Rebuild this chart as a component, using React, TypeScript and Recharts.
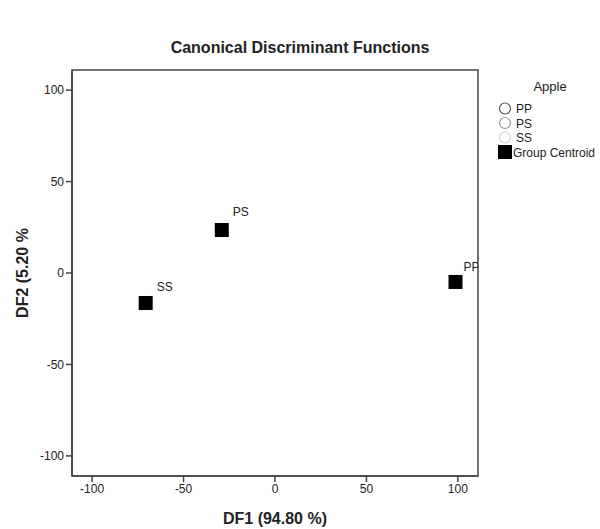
import React from "react";
import {
  ScatterChart,
  Scatter,
  XAxis,
  YAxis,
  ZAxis,
  ReferenceArea,
  Customized,
} from "recharts";

const groups = ["PP", "PS", "SS"];
const df1 = [98.7, -29.1, -70.7];
const df2 = [-4.9, 23.5, -16.4];
const ticks = [-100, -50, 0, 50, 100];
const groupStrokes = ["#555555", "#999999", "#d4d4d4"];

const centroids = groups.map((g, i) => ({ name: g, x: df1[i], y: df2[i] }));
const labelOffsets: Record<string, [number, number]> = {
  PP: [8, -11],
  PS: [11, -14],
  SS: [11, -12],
};

const FONT = "'Liberation Sans', Arial, sans-serif";

const CentroidShape = (props: any) => {
  const { cx, cy, payload } = props;
  const s = 14;
  const off = labelOffsets[payload.name] || [10, -12];
  return (
    <g>
      <rect x={cx - s / 2} y={cy - s / 2} width={s} height={s} fill="#000" />
      <text
        x={cx + off[0]}
        y={cy + off[1]}
        fontSize={12}
        fontFamily={FONT}
        fill="#222"
      >
        {payload.name}
      </text>
    </g>
  );
};

const LegendBlock = () => (
  <g transform="translate(499,78)">
    <text x={51} y={13} textAnchor="middle" fontSize={13} fontFamily={FONT} fill="#222">
      Apple
    </text>
    {groups.map((g, i) => (
      <g key={g}>
        <circle cx={6} cy={30.5 + i * 14.5} r={5.5} fill="none" stroke={groupStrokes[i]} strokeWidth={1.2} />
        <text x={17} y={35 + i * 14.5} fontSize={12} fontFamily={FONT} fill="#222">
          {g}
        </text>
      </g>
    ))}
    <rect x={-1} y={67} width={14} height={14} fill="#000" />
    <text x={14} y={79} fontSize={12} fontFamily={FONT} fill="#222">
      Group Centroid
    </text>
  </g>
);

const Title = () => (
  <text
    x={300}
    y={53}
    textAnchor="middle"
    fontSize={16}
    fontWeight="bold"
    fontFamily={FONT}
    fill="#222"
  >
    Canonical Discriminant Functions
  </text>
);

export default function App() {
  return (
    <div style={{ position: "absolute", left: 0, top: 0, background: "#fff" }}>
      <ScatterChart
        width={600}
        height={529}
        margin={{ top: 70, right: 122, bottom: 23, left: 22 }}
      >
        <XAxis
          type="number"
          dataKey="x"
          domain={[-111, 111]}
          ticks={ticks}
          allowDataOverflow
          height={30}
          axisLine={{ stroke: "#444", strokeWidth: 1.5 }}
          tickLine={{ stroke: "#444", strokeWidth: 1.5 }}
          tickSize={6}
          tick={{ fontSize: 12, fontFamily: FONT, fill: "#222" }}
          label={{
            value: "DF1 (94.80 %)",
            position: "insideBottom",
            offset: -18,
            style: { fontSize: 16, fontWeight: "bold", fontFamily: FONT, fill: "#222" },
          }}
        />
        <YAxis
          type="number"
          dataKey="y"
          domain={[-111, 111]}
          ticks={ticks}
          allowDataOverflow
          width={50}
          axisLine={{ stroke: "#444", strokeWidth: 1.5 }}
          tickLine={{ stroke: "#444", strokeWidth: 1.5 }}
          tickSize={6}
          tick={{ fontSize: 12, fontFamily: FONT, fill: "#222" }}
          label={{
            value: "DF2 (5.20 %",
            angle: -90,
            position: "insideLeft",
            offset: 0,
            style: { textAnchor: "middle", fontSize: 16, fontWeight: "bold", fontFamily: FONT, fill: "#222" },
          }}
        />
        <ZAxis range={[196, 196]} />
        <ReferenceArea
          x1={-111}
          x2={111}
          y1={-111}
          y2={111}
          fill="none"
          fillOpacity={0}
          stroke="#444"
          strokeWidth={1.5}
          ifOverflow="visible"
        />
        {groups.map((g) => (
          <Scatter key={g} name={g} data={[]} isAnimationActive={false} />
        ))}
        <Scatter
          name="Group Centroid"
          data={centroids}
          shape={<CentroidShape />}
          isAnimationActive={false}
        />
        <Customized component={<LegendBlock />} />
        <Customized component={<Title />} />
      </ScatterChart>
    </div>
  );
}
